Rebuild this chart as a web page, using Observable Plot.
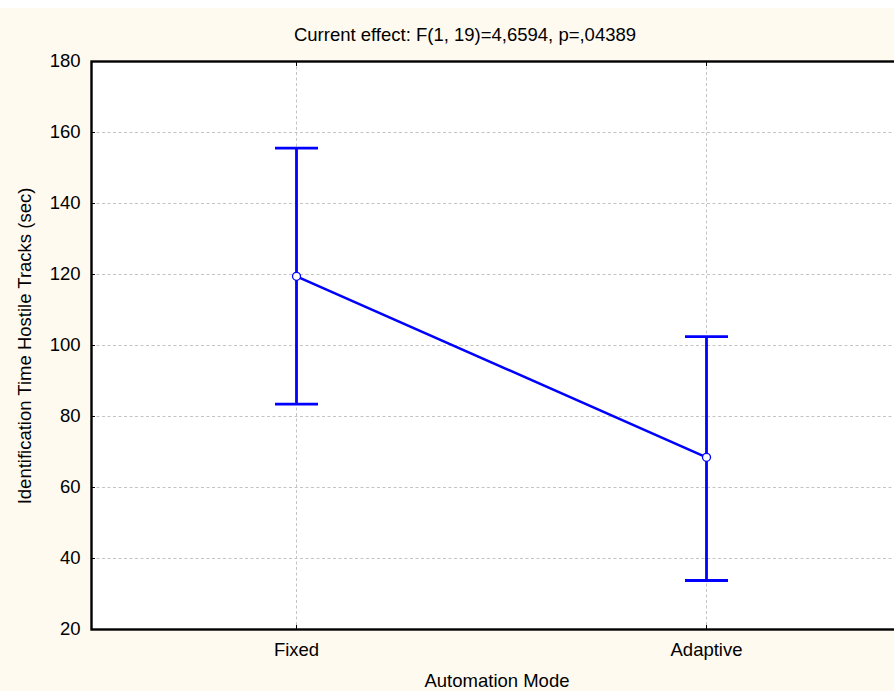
<!DOCTYPE html>
<html>
<head>
<meta charset="utf-8">
<script src="https://cdn.jsdelivr.net/npm/d3@7"></script>
<script src="https://cdn.jsdelivr.net/npm/@observablehq/plot@0.6"></script>
<style>
  html, body { margin: 0; padding: 0; background: #ffffff; overflow: hidden; }
  body { padding-top: 8px; }
  #chart { width: 894px; height: 683px; overflow: hidden; position: relative; background: #fffaf0; }
  #chart svg { display: block; background: #fffaf0; max-width: none; }
</style>
</head>
<body>
<div id="chart"></div>
<script>
// Data
const modes = ["Fixed", "Adaptive"];
const means = [119.5, 68.5];
const upper = [155.6, 102.5];
const lower = [83.5, 33.8];
const yTicks = [20, 40, 60, 80, 100, 120, 140, 160, 180];
const gridTicks = [40, 60, 80, 100, 120, 140, 160];
const yLimits = [20, 180];
const titleText = "Current effect: F(1, 19)=4,6594, p=,04389";
const xLabel = "Automation Mode";
const yLabel = "Identification Time Hostile Tracks (sec)";

const rows = modes.map((m, i) => ({mode: m, mean: means[i], hi: upper[i], lo: lower[i]}));
const caps = rows.flatMap(d => [{mode: d.mode, v: d.hi}, {mode: d.mode, v: d.lo}]);

const capSymbol = {
  draw(context, size) {
    const w = Math.sqrt(size / Math.PI);
    context.moveTo(-w, 0);
    context.lineTo(w, 0);
  }
};

const blue = "#0000ff";
const font = "'Liberation Sans', Arial, sans-serif";

const plot = Plot.plot({
  width: 930,
  height: 683,
  marginLeft: 91,
  marginRight: 19,
  marginTop: 53,
  marginBottom: 62,
  style: {fontFamily: font, fontSize: "18.5px", color: "#000", background: "#fffaf0", maxWidth: "none"},
  x: {type: "point", domain: modes, padding: 0.5, label: null},
  y: {domain: yLimits, label: null},
  marks: [
    Plot.frame({fill: "white", stroke: "none"}),
    Plot.gridY(gridTicks, {stroke: "#c4c4c4", strokeOpacity: 1, strokeDasharray: "3,2.5"}),
    Plot.gridX(modes, {stroke: "#c4c4c4", strokeOpacity: 1, strokeDasharray: "3,2.5"}),
    Plot.axisY(yTicks, {anchor: "left", tickSize: 0, tickPadding: 11, label: null, fill: "#000"}),
    Plot.axisX(modes, {anchor: "bottom", tickSize: 0, tickPadding: 13, label: null, fill: "#000"}),
    Plot.axisY(yTicks, {anchor: "left", tickSize: -4, text: null, label: null, stroke: "#000"}),
    Plot.axisX(modes, {anchor: "bottom", tickSize: -4, text: null, label: null, stroke: "#000"}),
    Plot.axisX(modes, {anchor: "top", tickSize: -4, text: null, label: null, stroke: "#000"}),
    Plot.ruleX(rows, {x: "mode", y1: "lo", y2: "hi", stroke: blue, strokeWidth: 2.8}),
    Plot.dot(caps, {x: "mode", y: "v", r: 21.5, symbol: capSymbol, fill: "none", stroke: blue, strokeWidth: 2.8}),
    Plot.line(rows, {x: "mode", y: "mean", stroke: blue, strokeWidth: 2.5}),
    Plot.dot(rows, {x: "mode", y: "mean", r: 4, fill: "white", stroke: blue, strokeWidth: 1.3}),
    Plot.frame({stroke: "#000", strokeWidth: 2.4})
  ]
});

const svg = d3.select(plot);
svg.append("text")
  .attr("x", 465).attr("y", 33)
  .attr("text-anchor", "middle")
  .attr("font-family", font).attr("font-size", "18.5px").attr("fill", "#000")
  .text(titleText);
svg.append("text")
  .attr("x", 497).attr("y", 679)
  .attr("text-anchor", "middle")
  .attr("font-family", font).attr("font-size", "18.5px").attr("fill", "#000")
  .text(xLabel);
svg.append("text")
  .attr("transform", "translate(31,338) rotate(-90)")
  .attr("text-anchor", "middle")
  .attr("font-family", font).attr("font-size", "18.5px").attr("fill", "#000")
  .text(yLabel);

document.getElementById("chart").appendChild(plot);
</script>
</body>
</html>
